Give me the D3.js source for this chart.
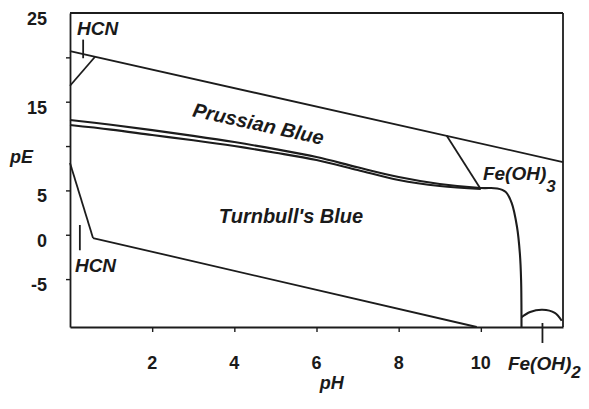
<!DOCTYPE html>
<html><head><meta charset="utf-8">
<script src="https://cdn.jsdelivr.net/npm/d3@7"></script>
<style>
body{margin:0;background:#fff}
svg{display:block}
text{font-family:"Liberation Sans",Arial,sans-serif;font-weight:bold;fill:#1a1a1a}
</style>
</head><body><svg id="c" width="589" height="409"></svg>
<script>
// axis ticks and labels
const xTickValues = [2, 4, 6, 8, 10];
const xTickLabels = ["2", "4", "6", "8", "10"];
const yTickValues = [-5, 0, 5, 10, 15, 20];
const yLabelValues = [25, 15, 5, 0, -5];

// boundary lines (pH, pE)
const upperLine = [[0, 20.7], [12, 8.2]];
const hcnUpperBoundary = [[0, 16.8], [0.61, 20.07]];
const hcnUpperTick = [[0.32, 22.0], [0.32, 19.9]];
const lowerLine = [[0.56, -0.37], [9.9, -10.4]];
const hcnLowerBoundary = [[0, 8.08], [0.56, -0.37]];
const hcnLowerTick = [[0.24, 1.1], [0.24, -1.75]];
const blueBoundaryA = [[0, 12.93], [1, 12.4], [2, 11.8], [3, 11.15], [4, 10.45], [5, 9.65], [6, 8.76], [7, 7.6], [8, 6.51], [9, 5.72], [10, 5.27], [10.4, 5.22], [10.6, 4.85], [10.75, 3.6], [10.88, 0.9], [10.95, -2.1], [10.98, -5.1], [10.99, -10.4]];
const blueBoundaryB = [[0, 12.37], [1, 11.85], [2, 11.24], [3, 10.65], [4, 10.0], [5, 9.25], [6, 8.42], [7, 7.3], [8, 6.17], [9, 5.49], [10, 5.15]];
const feoh3Boundary = [[9.17, 11.15], [9.98, 5.27]];
const feoh2Arc = [[10.99, -9.3], [11.2, -8.7], [11.5, -8.45], [11.8, -8.8], [11.97, -9.7]];
const feoh2Tick = [[11.5, -9.95], [11.5, -12.2]];

// region / species labels
const labelTexts = ["HCN", "HCN", "Turnbull's Blue", "Prussian Blue"];
const labelPH = [0.17, 0.12, 5.38, 4.55];
const labelPE = [22.5, -4.2, 1.32, 11.75];

const svg = d3.select("#c");
const x = d3.scaleLinear().domain([0, 12]).range([70, 563]);
const y = d3.scaleLinear().domain([-10.4, 25]).range([327, 13]);
const ink = "#1c1c1c";

const line = d3.line().x(d => x(d[0])).y(d => y(d[1]));
const smooth = d3.line().x(d => x(d[0])).y(d => y(d[1])).curve(d3.curveCatmullRom.alpha(0.5));

// frame
svg.append("line").attr("x1", x(0)).attr("x2", x(12)).attr("y1", y(25)).attr("y2", y(25))
  .attr("stroke", ink).attr("stroke-width", 1.8);
svg.append("line").attr("x1", x(12)).attr("x2", x(12)).attr("y1", y(25)).attr("y2", y(-10.4))
  .attr("stroke", ink).attr("stroke-width", 1.8);

// axes
const xAxis = svg.append("g").attr("transform", `translate(0,${y(-10.4)})`)
  .call(d3.axisBottom(x).tickValues(xTickValues).tickFormat("").tickSize(5).tickSizeOuter(0));
const yAxis = svg.append("g").attr("transform", `translate(${x(0)},0)`)
  .call(d3.axisLeft(y).tickValues(yTickValues).tickFormat("").tickSize(4).tickSizeOuter(0));
[xAxis, yAxis].forEach(g => {
  g.select(".domain").attr("stroke", ink).attr("stroke-width", 1.8);
  g.selectAll(".tick line").attr("stroke", ink).attr("stroke-width", 1.4);
});

// tick labels
svg.selectAll(".xl").data(xTickValues).join("text").attr("class", "xl")
  .attr("x", d => x(d)).attr("y", y(-10.4) + 42).attr("text-anchor", "middle")
  .attr("font-size", 18).text((d, i) => xTickLabels[i]);
svg.selectAll(".yl").data(yLabelValues).join("text").attr("class", "yl")
  .attr("x", x(0) - 23).attr("y", d => y(d) + 12).attr("text-anchor", "end")
  .attr("font-size", 18).text(d => d);

// axis titles
svg.append("text").attr("x", x(0) - 60).attr("y", y(8.09)).attr("font-size", 18)
  .attr("font-style", "italic").text("pE");
svg.append("text").attr("x", x(6.37)).attr("y", y(-10.4) + 62).attr("text-anchor", "middle")
  .attr("font-size", 18).attr("font-style", "italic").text("pH");

// boundaries
const paths = [upperLine, hcnUpperBoundary, hcnUpperTick, lowerLine, hcnLowerBoundary, hcnLowerTick, feoh3Boundary, feoh2Tick];
paths.forEach(p => svg.append("path").attr("d", line(p)).attr("fill", "none")
  .attr("stroke", ink).attr("stroke-width", 1.8));
[blueBoundaryA, blueBoundaryB, feoh2Arc].forEach(p => svg.append("path").attr("d", smooth(p))
  .attr("fill", "none").attr("stroke", ink).attr("stroke-width", 2.1));

// labels
labelTexts.forEach((t, i) => {
  const tx = svg.append("text").attr("font-style", "italic").text(t);
  if (t === "HCN") {
    tx.attr("x", x(labelPH[i])).attr("y", y(labelPE[i])).attr("font-size", 19);
  } else if (t === "Prussian Blue") {
    tx.attr("text-anchor", "middle").attr("font-size", 20)
      .attr("transform", `translate(${x(labelPH[i])},${y(labelPE[i])}) rotate(12.4)`);
  } else {
    tx.attr("x", x(labelPH[i])).attr("y", y(labelPE[i])).attr("text-anchor", "middle").attr("font-size", 20);
  }
});

// iron hydroxide labels with subscripts
const fe3 = svg.append("text").attr("x", x(10.05)).attr("y", y(6.17)).attr("font-size", 19).attr("font-style", "italic");
fe3.append("tspan").text("Fe(OH)");
fe3.append("tspan").attr("dy", 12).attr("font-size", 17).text("3");
const fe2 = svg.append("text").attr("x", x(10.66)).attr("y", y(-10.4) + 43).attr("font-size", 19).attr("font-style", "italic");
fe2.append("tspan").text("Fe(OH)");
fe2.append("tspan").attr("dy", 8).attr("font-size", 17).text("2");
</script>
</body></html>
